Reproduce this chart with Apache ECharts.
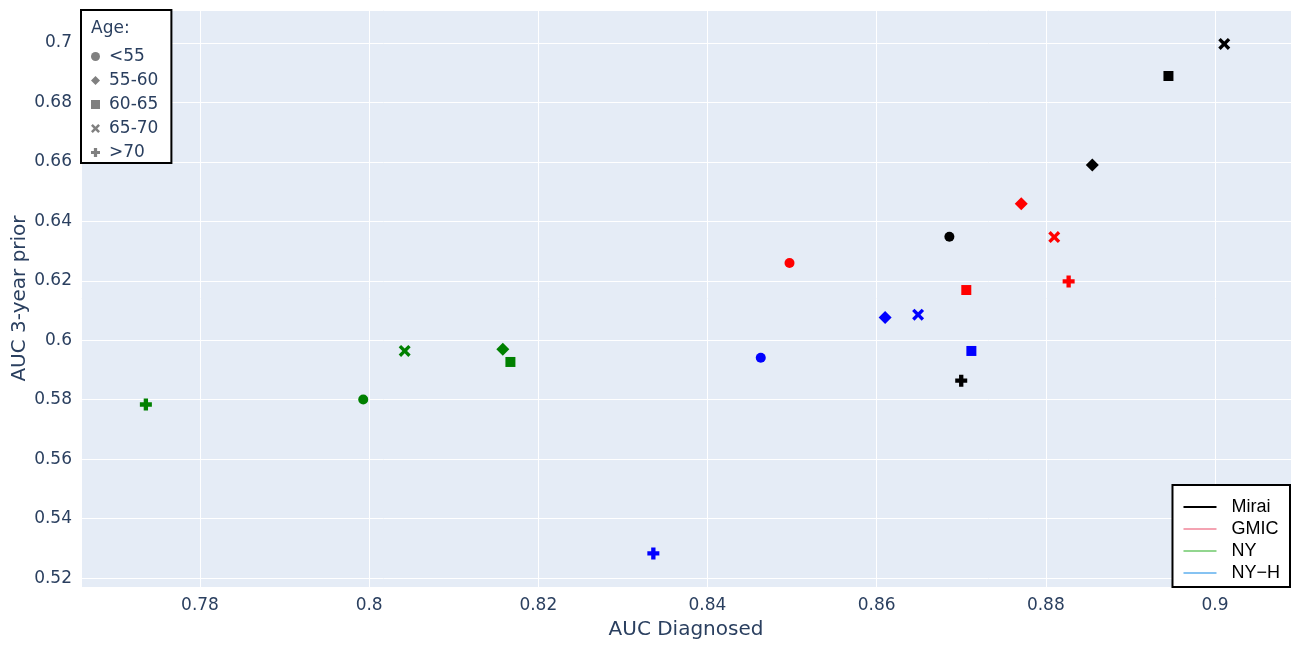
<!DOCTYPE html>
<html>
<head>
<meta charset="utf-8">
<script src="https://cdn.jsdelivr.net/npm/echarts@6/dist/echarts.min.js"></script>
<style>
html,body{margin:0;padding:0;background:#fff;}
#chart{width:1295px;height:651px;}
</style>
</head>
<body>
<div id="chart"></div>
<script>
// ---- data ----
const ages = ['<55', '55-60', '60-65', '65-70', '>70'];
const models = ['Mirai', 'GMIC', 'NY', 'NY\u2212H'];
const miraiX = [0.8686, 0.8855, 0.8945, 0.9011, 0.8700];
const miraiY = [0.6348, 0.6590, 0.6889, 0.6997, 0.5864];
const gmicX  = [0.8497, 0.8771, 0.8706, 0.8810, 0.8827];
const gmicY  = [0.6260, 0.6459, 0.6169, 0.6347, 0.6198];
const nyX    = [0.7993, 0.8158, 0.8167, 0.8042, 0.7736];
const nyY    = [0.5801, 0.5970, 0.5927, 0.5964, 0.5784];
const nyhX   = [0.8463, 0.8610, 0.8712, 0.8649, 0.8336];
const nyhY   = [0.5941, 0.6077, 0.5964, 0.6086, 0.5283];
const xTicks = [0.78, 0.80, 0.82, 0.84, 0.86, 0.88, 0.90];
const yTicks = [0.52, 0.54, 0.56, 0.58, 0.60, 0.62, 0.64, 0.66, 0.68, 0.70];

// ---- styles ----
const markerColors = ['#000000', '#ff0000', '#008000', '#0000ff'];
const legendLineColors = ['#000000', '#f4a3b2', '#92d68f', '#86c3f2'];
const symX = 'path://M2,0 L5,3 L8,0 L10,2 L7,5 L10,8 L8,10 L5,7 L2,10 L0,8 L3,5 L0,2 Z';
const symCross = 'path://M3.2,0 H6.8 V3.2 H10 V6.8 H6.8 V10 H3.2 V6.8 H0 V3.2 H3.2 Z';
const ageSymbols = ['circle', 'diamond', 'rect', symX, symCross];
const ageSizes = [10, 13, 10, 12, 12];
const textCol = '#2a3f5f';
const font = '"DejaVu Sans", Verdana, sans-serif';

const modelXs = [miraiX, gmicX, nyX, nyhX];
const modelYs = [miraiY, gmicY, nyY, nyhY];

function isTick(v, ticks) {
  return ticks.some(function (t) { return Math.abs(t - v) < 1e-6; });
}
function fmtX(v) { return isTick(v, xTicks) ? String(parseFloat(v.toFixed(2))) : ''; }
function fmtY(v) { return isTick(v, yTicks) ? String(parseFloat(v.toFixed(2))) : ''; }

const series = [];
ages.forEach(function (age, ai) {
  const data = [];
  models.forEach(function (m, mi) {
    data.push({ value: [modelXs[mi][ai], modelYs[mi][ai]], name: m, itemStyle: { color: markerColors[mi] } });
  });
  series.push({
    type: 'scatter', name: age, symbol: ageSymbols[ai], symbolSize: ageSizes[ai],
    itemStyle: { color: '#808080', opacity: 1 }, data: data, z: 3
  });
});
models.forEach(function (m, mi) {
  series.push({ type: 'line', name: m, data: [], color: legendLineColors[mi],
    lineStyle: { color: legendLineColors[mi], width: 2 }, itemStyle: { color: legendLineColors[mi] } });
});

const chart = echarts.init(document.getElementById('chart'), null, { renderer: 'canvas' });
chart.setOption({
  animation: false,
  backgroundColor: '#ffffff',
  title: {
    text: 'Age:', left: 86, top: 15,
    textStyle: { color: textCol, fontSize: 17, fontWeight: 'normal', fontFamily: font }
  },
  grid: { left: 81, right: 4, top: 10, bottom: 64, show: true, backgroundColor: '#E5ECF6', borderWidth: 0, outerBoundsMode: 'none', containLabel: false },
  xAxis: {
    type: 'value', min: 0.76593, max: 0.90899, minInterval: 0.02, maxInterval: 0.02,
    name: 'AUC Diagnosed', nameLocation: 'middle', nameGap: 33, nameMoveOverlap: false,
    nameTextStyle: { color: textCol, fontSize: 20, fontFamily: font },
    axisLine: { show: false }, axisTick: { show: false },
    axisLabel: { color: textCol, fontSize: 17, fontFamily: font, margin: 10, showMinLabel: false, showMaxLabel: false, formatter: fmtX },
    splitLine: { show: true, lineStyle: { color: '#ffffff', width: 1 } }
  },
  yAxis: {
    type: 'value', min: 0.5170, max: 0.7111, minInterval: 0.02, maxInterval: 0.02,
    name: 'AUC 3-year prior', nameLocation: 'middle', nameGap: 51, nameMoveOverlap: false,
    nameTextStyle: { color: textCol, fontSize: 20, fontFamily: font },
    axisLine: { show: false }, axisTick: { show: false },
    axisLabel: { color: textCol, fontSize: 17, fontFamily: font, margin: 9, showMinLabel: false, showMaxLabel: false, formatter: fmtY },
    splitLine: { show: true, lineStyle: { color: '#ffffff', width: 1 } }
  },
  legend: [
    {
      orient: 'vertical', left: 81, top: 10,
      padding: [38, 13, 2, 10],
      backgroundColor: '#ffffff', borderColor: '#000000', borderWidth: 2,
      itemWidth: 9, itemHeight: 9, itemGap: 7,
      textStyle: { color: textCol, fontSize: 17, fontFamily: font, lineHeight: 17, padding: [0, 0, 0, 4] },
      data: ages.map(function (a, i) { return { name: a, icon: ageSymbols[i], itemStyle: { color: '#808080' } }; }),
      selectedMode: false
    },
    {
      orient: 'vertical', right: 5, bottom: 64,
      padding: [13, 10, 5, 11],
      backgroundColor: '#ffffff', borderColor: '#000000', borderWidth: 2,
      itemWidth: 33, itemHeight: 2, itemGap: 4,
      icon: 'rect',
      textStyle: { color: '#000000', fontSize: 18, fontFamily: '"Liberation Sans", Arial, sans-serif', padding: [0, 0, 0, 10], lineHeight: 18 },
      data: models.map(function (m, i) { return { name: m, itemStyle: { color: legendLineColors[i] } }; }),
      selectedMode: false
    }
  ],
  series: series
});
</script>
</body>
</html>
